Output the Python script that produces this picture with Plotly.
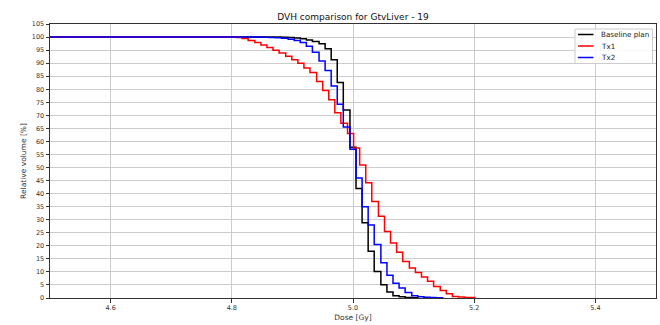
import plotly.graph_objects as go

# ---- data (cumulative DVH, step curves) ----
baseline_dose = [4.5, 4.882, 4.893, 4.903, 4.913, 4.923, 4.933, 4.944, 4.954, 4.964,
                 4.974, 4.984, 4.995, 5.005, 5.015, 5.025, 5.035, 5.046, 5.056,
                 5.066, 5.076, 5.086, 5.097, 5.107]
baseline_vol = [100, 99.9, 99.8, 99.6, 99.3, 98.9, 98.3, 97.4, 95.5, 91.3,
                82.6, 72.0, 57.8, 42.0, 28.8, 17.9, 10.2, 5.1, 2.3,
                0.9, 0.45, 0.2, 0.08, 0]

tx1_dose = [4.5, 4.807, 4.817, 4.827, 4.838, 4.848, 4.858, 4.868, 4.878, 4.889, 4.899,
            4.909, 4.919, 4.929, 4.940, 4.950, 4.960, 4.970, 4.980, 4.991, 5.001,
            5.011, 5.021, 5.031, 5.042, 5.052, 5.062, 5.072, 5.082, 5.093, 5.103,
            5.113, 5.123, 5.133, 5.144, 5.154, 5.164, 5.174, 5.184, 5.201]
tx1_vol = [100, 99.8, 99.4, 98.7, 97.9, 97.0, 96.0, 94.9, 93.9, 92.6, 91.3,
           90.0, 88.1, 86.4, 83.0, 79.5, 76.0, 71.0, 67.0, 63.0, 57.5,
           51.0, 44.2, 37.0, 31.3, 25.5, 21.1, 17.5, 14.0, 11.5, 9.8,
           8.0, 6.4, 4.4, 2.9, 1.6, 0.6, 0.35, 0.15, 0]

tx2_dose = [4.5, 4.851, 4.862, 4.872, 4.882, 4.893, 4.903, 4.913, 4.923, 4.933, 4.944,
            4.954, 4.964, 4.974, 4.984, 4.995, 5.005, 5.015, 5.025, 5.035, 5.046,
            5.056, 5.066, 5.076, 5.086, 5.097, 5.107, 5.117, 5.127, 5.137, 5.148]
tx2_vol = [100, 99.95, 99.8, 99.7, 99.5, 99.2, 98.7, 97.9, 96.5, 94.2, 90.8,
           87.2, 81.2, 74.2, 65.5, 57.0, 46.0, 35.0, 28.0, 20.5, 13.5,
           8.7, 5.7, 3.8, 2.1, 0.9, 0.5, 0.3, 0.15, 0.05, 0]

x_ticks = [4.6, 4.8, 5.0, 5.2, 5.4]
x_tick_labels = ["4.6", "4.8", "5.0", "5.2", "5.4"]
y_ticks = list(range(0, 106, 5))

series = [
    ("Baseline plan", baseline_dose, baseline_vol, "#000000"),
    ("Tx1", tx1_dose, tx1_vol, "#ff0000"),
    ("Tx2", tx2_dose, tx2_vol, "#0000ff"),
]

FONT = "DejaVu Sans"
W, H = 660, 325
ML, MR, MT, MB = 50, 4, 24, 27
PW, PH = W - ML - MR, H - MT - MB


def px_x(px):
    return (px - ML) / PW


def px_y(py):
    return (H - MB - py) / PH


fig = go.Figure()
for name, xs, ys, color in series:
    fig.add_trace(go.Scatter(
        x=xs, y=ys, mode="lines", name=name,
        line=dict(color=color, width=1.5, shape="hv"),
    ))

# matplotlib-style legend box (upper right)
shapes = [dict(type="rect", xref="paper", yref="paper",
               x0=px_x(575), x1=px_x(652.5), y0=px_y(63.5), y1=px_y(29),
               line=dict(color="#cccccc", width=1), fillcolor="rgba(255,255,255,0.85)",
               layer="above")]
annotations = []
row_y = [34.5, 46, 57.5]
for (name, _, _, color), ry in zip(series, row_y):
    shapes.append(dict(type="line", xref="paper", yref="paper",
                       x0=px_x(578), x1=px_x(593.5), y0=px_y(ry), y1=px_y(ry),
                       line=dict(color=color, width=1.5), layer="above"))
    annotations.append(dict(text=name, xref="paper", yref="paper",
                            x=px_x(598.5), y=px_y(ry), xanchor="left", yanchor="middle",
                            showarrow=False, font=dict(size=7.2, family=FONT, color="#222222")))

fig.update_layout(
    width=W, height=H,
    margin=dict(l=ML, r=MR, t=MT, b=MB),
    paper_bgcolor="white", plot_bgcolor="white",
    font=dict(family=FONT, color="#222222"),
    title=dict(text="DVH comparison for GtvLiver - 19", font=dict(size=9, family=FONT, color="#111111"),
               x=0.5, xref="paper", xanchor="center", y=1 - 16.5 / H, yref="container", yanchor="middle"),
    showlegend=False,
    shapes=shapes,
    annotations=annotations,
    xaxis=dict(range=[4.5, 5.5], tickvals=x_ticks, ticktext=x_tick_labels,
               showgrid=True, gridcolor="#cccccc", gridwidth=1,
               showline=True, linecolor="#333333", linewidth=1, mirror=True,
               ticks="outside", ticklen=3.5, tickcolor="#333333", tickwidth=1,
               tickfont=dict(size=6.5, family=FONT, color="#333333"),
               zeroline=False,
               title=dict(text="Dose [Gy]", font=dict(size=7.5, family=FONT, color="#333333"), standoff=3)),
    yaxis=dict(range=[0, 105], tickvals=y_ticks,
               showgrid=True, gridcolor="#cccccc", gridwidth=1,
               showline=True, linecolor="#333333", linewidth=1, mirror=True,
               ticks="outside", ticklen=3.5, tickcolor="#333333", tickwidth=1,
               tickfont=dict(size=6.5, family=FONT, color="#333333"),
               zeroline=False,
               title=dict(text="Relative volume [%]", font=dict(size=7.5, family=FONT, color="#333333"), standoff=4)),
)

fig.write_html("out.html")
